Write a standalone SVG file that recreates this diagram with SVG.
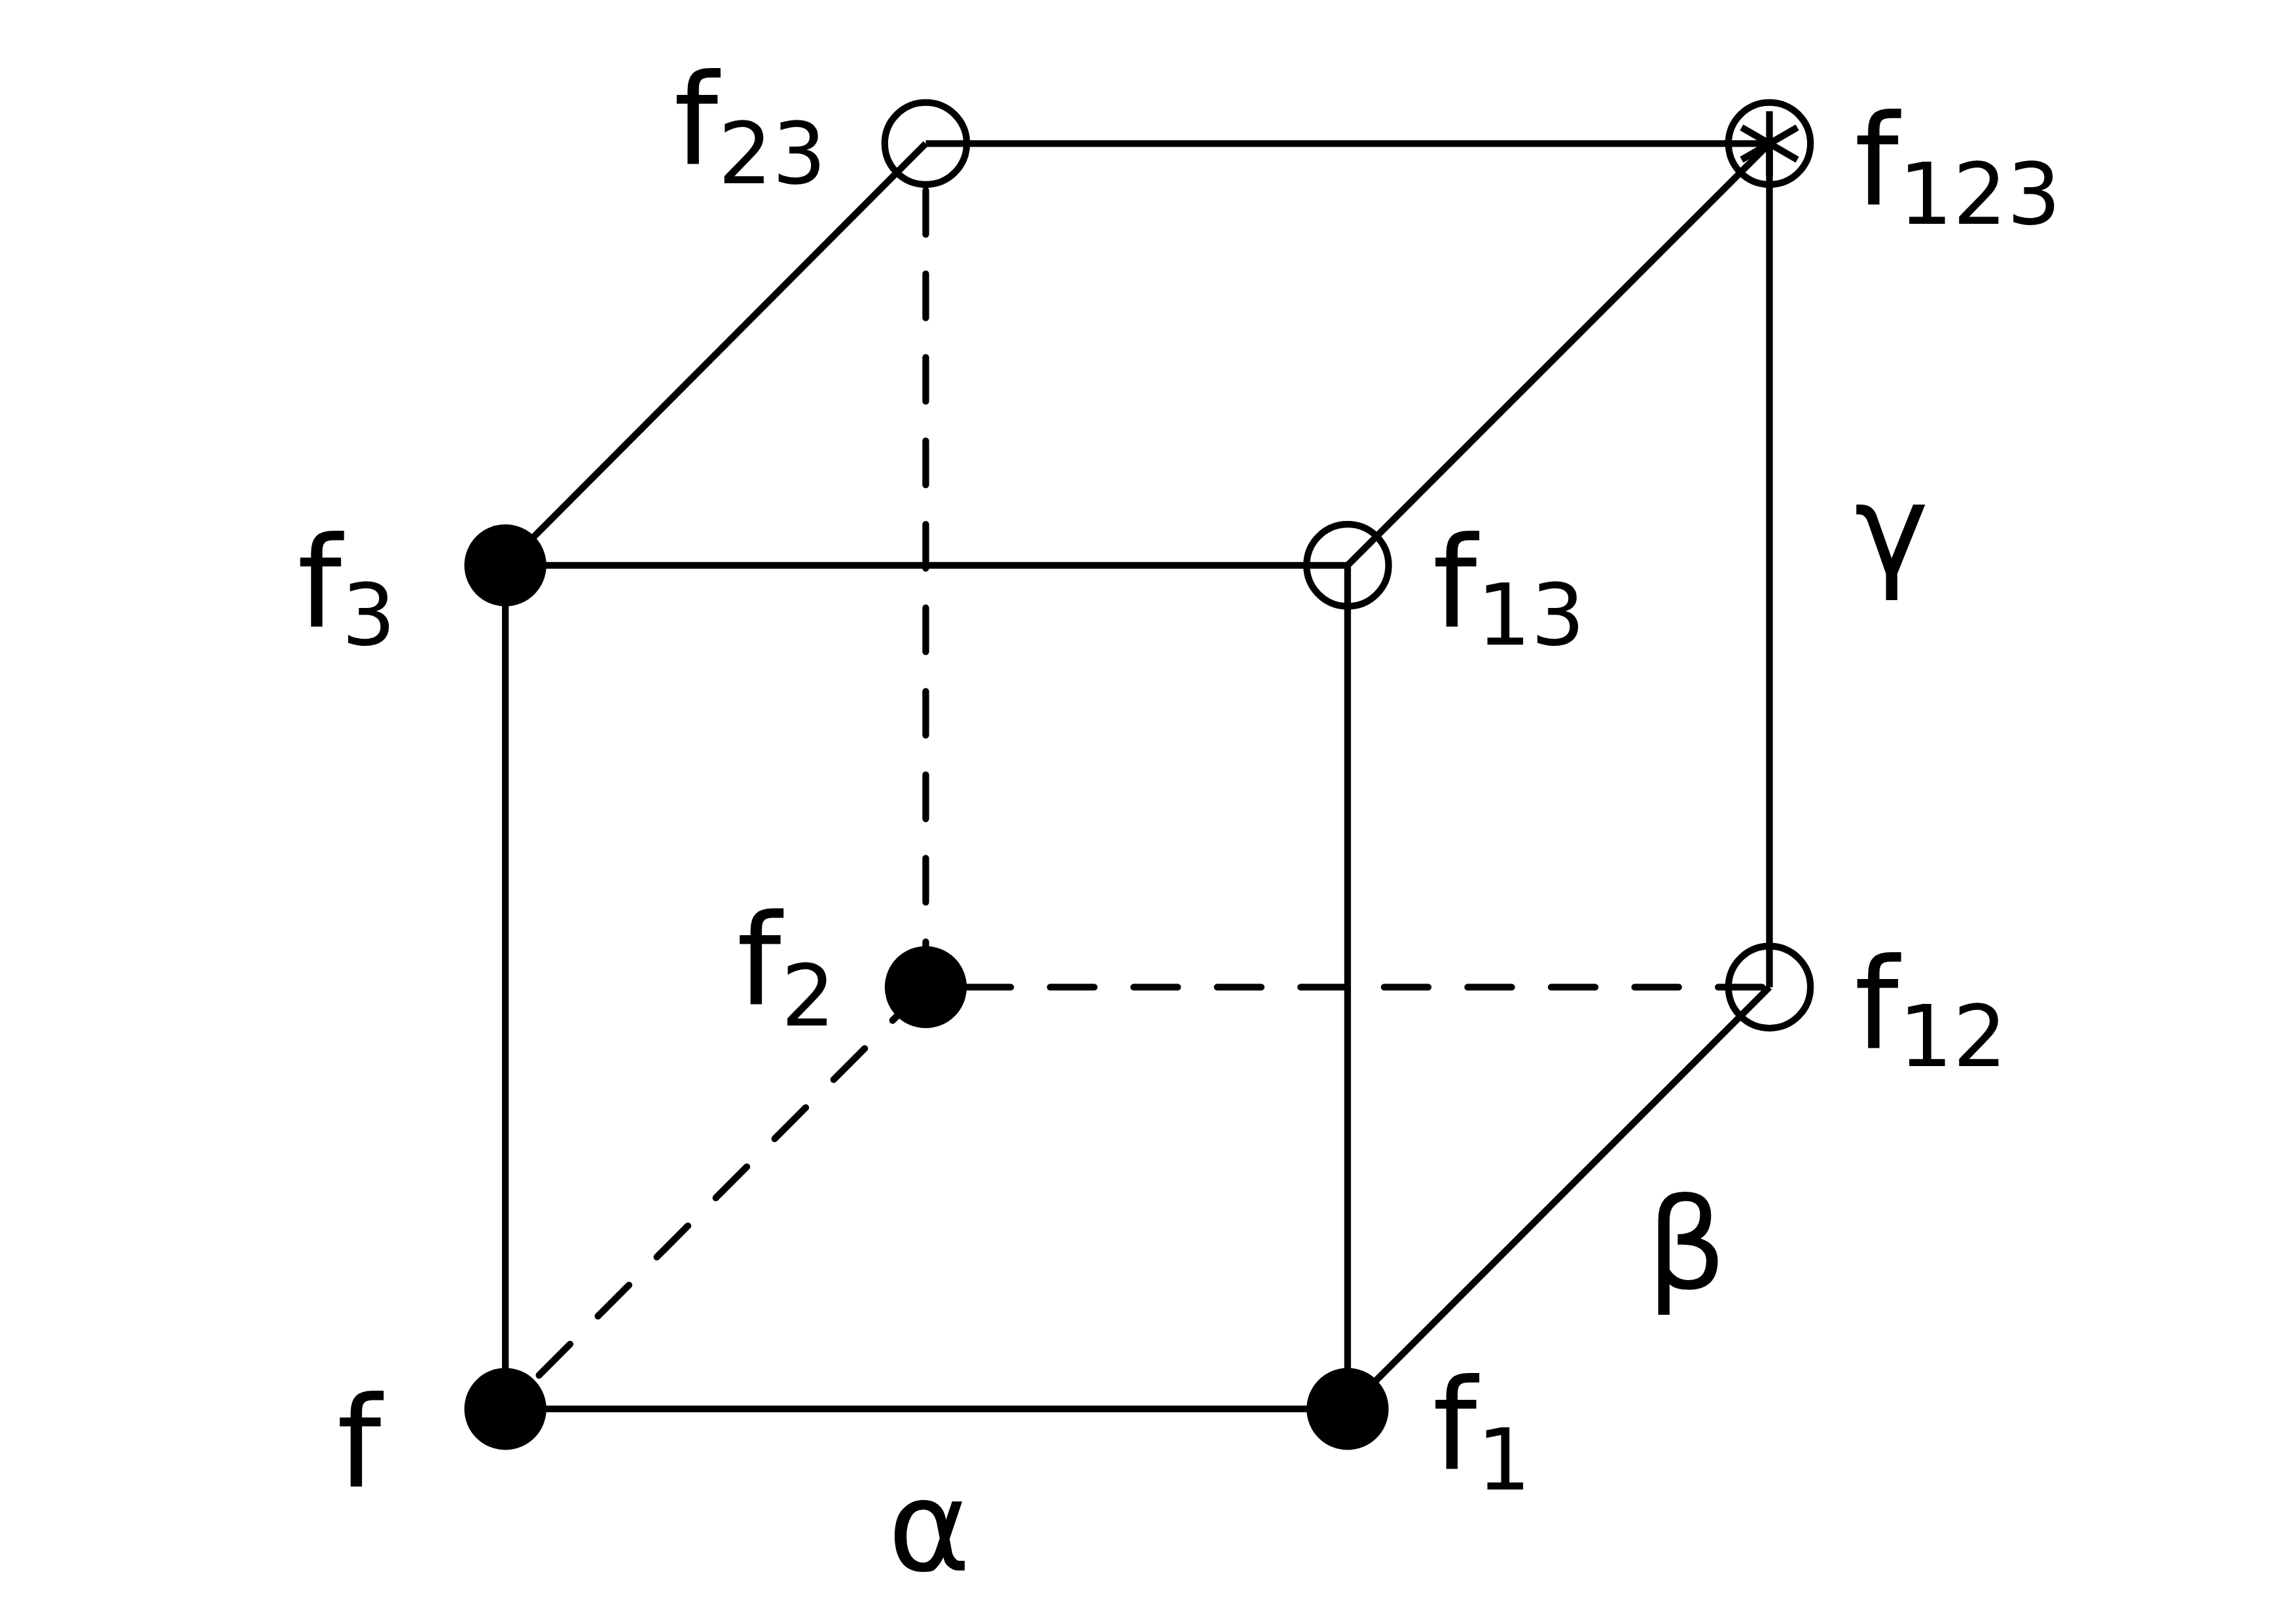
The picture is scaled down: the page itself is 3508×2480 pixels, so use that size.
<svg xmlns="http://www.w3.org/2000/svg" width="3508" height="2480" viewBox="0 0 3508 2480">
<style>
.s{stroke:#000;stroke-width:4.6;fill:none}
.d{stroke:#000;stroke-width:4.6;fill:none;stroke-dasharray:30 27;stroke-linecap:round}
.dot{fill:#000}
.oc{fill:none;stroke:#000;stroke-width:4.6}
text{font-family:"DejaVu Sans",sans-serif;font-size:86px;fill:#000}
.sub{font-size:58px}
</style>
<rect width="3508" height="2480" fill="#fff"/>
<g transform="scale(2.238)">
<g id="connectors">
<line class="s" x1="345" y1="962" x2="920" y2="962"/>
<line class="s" x1="345" y1="962" x2="345" y2="386"/>
<line class="s" x1="345" y1="386" x2="920" y2="386"/>
<line class="s" x1="920" y1="962" x2="920" y2="386"/>
<line class="s" x1="345" y1="386" x2="632" y2="98"/>
<line class="s" x1="920" y1="386" x2="1208" y2="98"/>
<line class="s" x1="920" y1="962" x2="1208" y2="674"/>
<line class="s" x1="1208" y1="674" x2="1208" y2="98"/>
<line class="s" x1="632" y1="98" x2="1208" y2="98"/>
<line class="d" x1="632" y1="130" x2="632" y2="674"/>
<line class="d" x1="660" y1="674" x2="1208" y2="674"/>
<line class="d" x1="368" y1="939" x2="632" y2="674"/>
</g>
<g id="f"><circle class="dot" cx="345" cy="962" r="28"/><text x="230" y="1015">f</text></g>
<g id="f1"><circle class="dot" cx="920" cy="962" r="28"/><text x="978" y="1003">f<tspan class="sub" dy="14">1</tspan></text></g>
<g id="f3"><circle class="dot" cx="345" cy="386" r="28"/><text x="203" y="428">f<tspan class="sub" dy="12">3</tspan></text></g>
<g id="f13"><circle class="oc" cx="920" cy="386" r="28"/><text x="978" y="428">f<tspan class="sub" dy="12">13</tspan></text></g>
<g id="f2"><circle class="dot" cx="632" cy="674" r="28"/><text x="503" y="686">f<tspan class="sub" dy="14">2</tspan></text></g>
<g id="f12"><circle class="oc" cx="1208" cy="674" r="28"/><text x="1266" y="716">f<tspan class="sub" dy="12">12</tspan></text></g>
<g id="f23"><circle class="oc" cx="632" cy="98" r="28"/><text x="460" y="112">f<tspan class="sub" dy="13">23</tspan></text></g>
<g id="f123"><circle class="oc" cx="1208" cy="98" r="28"/>
<path class="s" d="M1208 76V120M1189 87L1227 109M1189 109L1227 87"/>
<text x="1266" y="140">f<tspan class="sub" dy="13">123</tspan></text></g>
<text x="1266" y="392">γ</text>
<text x="1124" y="880">β</text>
<text x="606" y="1072">α</text>
</g>
</svg>
